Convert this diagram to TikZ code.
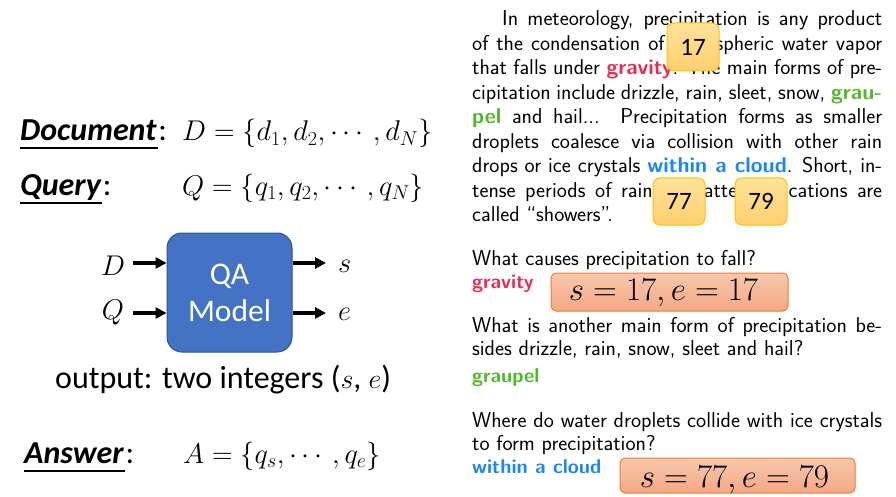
\RequirePackage{fix-cm}
\documentclass[tikz,border=0pt]{standalone}
\usepackage{fontspec}
\usepackage{amsmath}
\newfontfamily\carl{Carlito}
\usetikzlibrary{arrows.meta}
\definecolor{qablue}{RGB}{68,114,196}
\definecolor{qaborder}{RGB}{47,82,143}
\definecolor{gravred}{RGB}{232,45,85}
\definecolor{graugreen}{RGB}{80,185,40}
\definecolor{cloudblue}{RGB}{25,135,250}
\definecolor{numtop}{RGB}{255,226,155}
\definecolor{numbot}{RGB}{255,208,110}
\definecolor{numborder}{RGB}{255,192,0}
\definecolor{saltop}{RGB}{248,200,172}
\definecolor{salbot}{RGB}{244,168,132}
\definecolor{salborder}{RGB}{237,125,49}
\newcommand\sidefont{\sffamily\fontsize{21.5}{24.5}\selectfont}
\newcommand\ansfont{\sffamily\bfseries\fontsize{20}{24.5}\selectfont}
\tikzset{
  lbl/.style={anchor=base west, inner sep=0, font=\carl\bfseries\itshape\fontsize{32}{38}\selectfont},
  colon/.style={anchor=base west, inner sep=0, font=\carl\fontsize{32}{38}\selectfont},
  mth/.style={anchor=base west, inner sep=0, font=\fontsize{28.5}{34}\selectfont},
  uline/.style={line width=1.5pt},
  arr/.style={line width=3.5pt, -{Triangle[length=11pt,width=11pt]}},
  side/.style={anchor=base west, inner sep=0, font=\sidefont},
  answer/.style={anchor=base west, inner sep=0, font=\ansfont},
  numbox/.style={draw=numborder, line width=1pt, top color=numtop, bottom color=numbot, rounded corners=7pt, font=\carl\fontsize{25}{28}\selectfont, inner sep=0},
  salbox/.style={draw=salborder, line width=1pt, top color=saltop, bottom color=salbot, rounded corners=5pt, inner sep=0},
  bigmath/.style={anchor=base, inner sep=0, font=\fontsize{33}{38}\selectfont},
}
\begin{document}
\begin{tikzpicture}[x=1pt,y=-1pt]
\useasboundingbox (0,0) rectangle (896,497);
% ---------- left side ----------
\node[lbl] (doc) at (20,141) {Document};
\node[colon] (doccol) at ([xshift=1.5pt]doc.base east) {:};
\draw[uline] ([yshift=-7pt]doc.base west) -- ([yshift=-7pt,xshift=1pt]doc.base east);
\node[mth] (dm) at (182,141) {$D=\{d_1,d_2,\cdots,d_N\}$};

\node[lbl] (qry) at (20,195) {Query};
\node[colon] (qrycol) at ([xshift=1.5pt]qry.base east) {:};
\draw[uline] ([yshift=-8pt]qry.base west) -- ([yshift=-8pt,xshift=1pt]qry.base east);
\node[mth] (qm) at (182,195) {$Q=\{q_1,q_2,\cdots,q_N\}$};

\node[draw=qaborder, line width=1pt, fill=qablue, rounded corners=15pt,
      minimum width=125pt, minimum height=119pt, inner sep=0,
      text=white, align=center, font=\carl\fontsize{31.5}{37}\selectfont] (qa) at (229.5,292.5) {QA\\Model};

\node[mth, anchor=base] (lD) at (113,275) {$D$};
\node[mth, anchor=base] (lQ) at (113,319) {$Q$};
\node[mth, anchor=base west] (ls) at (338,272) {$s$};
\node[mth, anchor=base west] (le) at (338,320) {$e$};
\coordinate (inD) at (133,263);
\coordinate (inQ) at (133,313);
\draw[arr] (inD) -- (inD -| qa.west);
\draw[arr] (inQ) -- (inQ -| qa.west);
\draw[arr] (qa.east |- inD) -- (326,263);
\draw[arr] (qa.east |- inQ) -- (326,313);

\node[anchor=base west, inner sep=0, font=\carl\fontsize{32}{36}\selectfont] (out) at (55,388)
  {output: two integers ({\fontsize{28}{34}\selectfont$s$}, {\fontsize{28}{34}\selectfont$e$})};

\node[lbl] (ans) at (24,463) {Answer};
\node[colon] (anscol) at ([xshift=1.5pt]ans.base east) {:};
\draw[uline] ([yshift=-8pt]ans.base west) -- ([yshift=-8pt,xshift=1pt]ans.base east);
\node[mth] (am) at (183,463) {$A=\{q_s,\cdots,q_e\}$};

% ---------- right side ----------
\node[side] (para) at (472,26) {\parbox[t]{410pt}{\sidefont
\hspace*{30pt}In meteorology, precipitation is any product\linebreak
of the condensation of atmospheric water vapor\linebreak
that falls under {\bfseries\color{gravred}gravity}. The main forms of pre-\linebreak
cipitation include drizzle, rain, sleet, snow, {\bfseries\color{graugreen}grau-}\linebreak
{\bfseries\color{graugreen}pel} and hail... Precipitation forms as smaller\linebreak
droplets coalesce via collision with other rain\linebreak
drops or ice crystals {\bfseries\color{cloudblue}within a cloud}. Short, in-\linebreak
tense periods of rain in scattered locations are\linebreak
called “showers”.}};

\node[numbox, minimum width=52pt, minimum height=48pt] (n17) at (693,47) {17};
\node[numbox, minimum width=52pt, minimum height=47pt] (n77) at (679,201.5) {77};
\node[numbox, minimum width=52pt, minimum height=47pt] (n79) at (761,201.5) {79};

\node[side] (q1) at (472,265) {What causes precipitation to fall?};
\node[answer, text=gravred] (a1) at (472,288) {gravity};
\node[salbox, minimum width=237pt, minimum height=38pt] (b1) at (669.5,292) {};
\node[bigmath] (t1) at (663.5,300) {$s=17,e=17$};

\node[side] (q2) at (472,332) {\parbox[t]{410pt}{\sffamily\fontsize{21.5}{23}\selectfont
What is another main form of precipitation be-\linebreak
sides drizzle, rain, snow, sleet and hail?}};
\node[answer, text=graugreen] (a2) at (472,382) {graupel};

\node[side] (q3) at (472,427) {\parbox[t]{410pt}{\sffamily\fontsize{21.5}{23}\selectfont
Where do water droplets collide with ice crystals\linebreak
to form precipitation?}};
\node[answer, text=cloudblue] (a3) at (472,473) {within a cloud};
\node[salbox, minimum width=235pt, minimum height=35pt] (b2) at (737.5,475.5) {};
\node[bigmath] (t2) at (734.5,487) {$s=77,e=79$};
\end{tikzpicture}
\end{document}
